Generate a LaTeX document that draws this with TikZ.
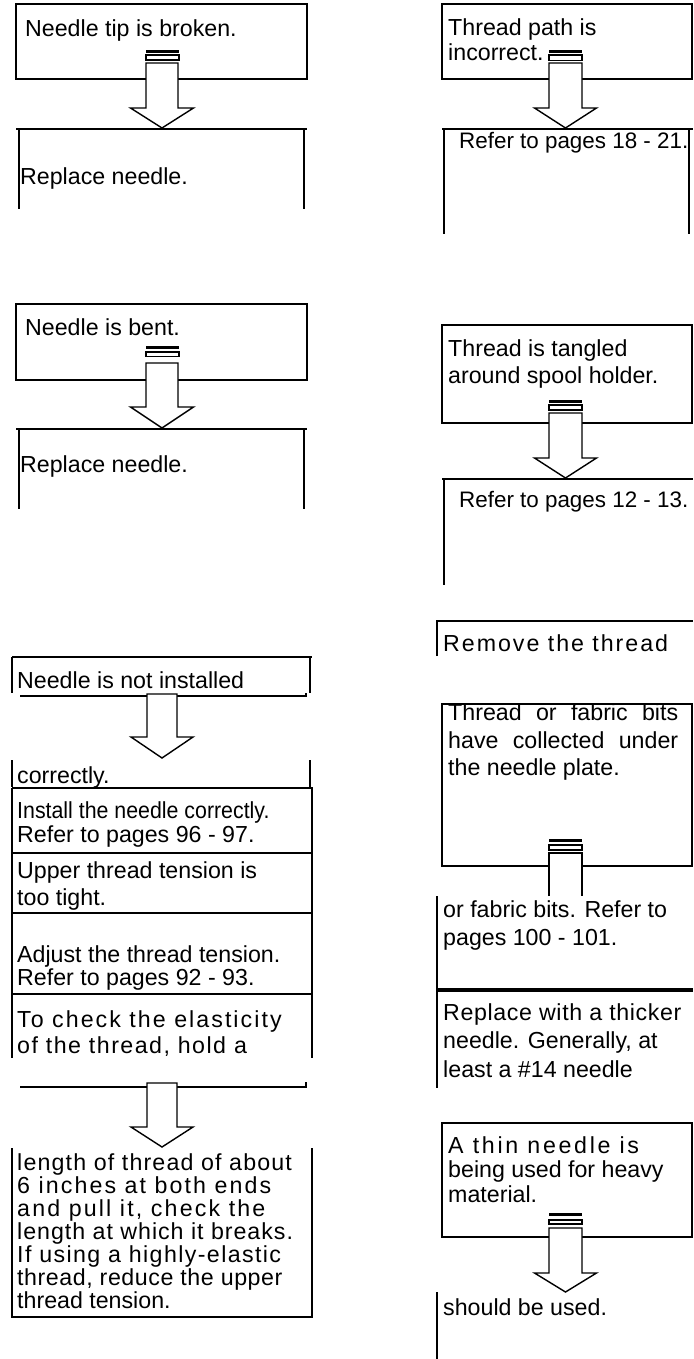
\documentclass[tikz,border=0pt]{standalone}
\usepackage{fontspec}
\setmainfont{Liberation Sans}
\newfontfamily\condfont[FakeStretch=0.92]{Liberation Sans}
\newcommand\lsp[2]{{\addfontfeature{LetterSpace=#1}#2}}
\newcommand\just[1]{\makebox[230pt][s]{#1}}
% block arrow: cx, half shaft, top, head y, tip y, half head
\newcommand\blkarrow[6]{%
  \draw[arrowline] (#1-#2,#3) -- (#1+#2,#3) -- (#1+#2,#4) -- (#1+#6,#4) -- (#1,#5) -- (#1-#6,#4) -- (#1-#2,#4) -- cycle;}
% double bar above arrow: x1, x2, bar y, rect top, rect bottom
\newcommand\twobars[5]{%
  \fill (#1,#3) rectangle (#2,#3+3);
  \draw[line width=1.3pt,fill=white] (#1,#4) rectangle (#2,#5);}
\begin{document}
\begin{tikzpicture}[x=1pt,y=-1pt,
  txt/.style={anchor=base west, inner sep=0pt, font=\fontsize{23.2}{27}\selectfont},
  smalltxt/.style={txt, font=\fontsize{22.4}{27}\selectfont},
  frame/.style={draw=black, line width=1.7pt},
  edge/.style={line width=1.7pt},
  thickedge/.style={line width=3.3pt},
  arrowline/.style={draw=black, line width=1.4pt, fill=white, line join=miter}]
\useasboundingbox (0,0) rectangle (693,1359);

% ================= LEFT COLUMN =================
% box 1
\node[txt] (t1) at (25,37) {Needle tip is broken.};
\draw[frame] (16,4) rectangle (307,79);
\twobars{146}{179}{50}{55}{60}
\blkarrow{162}{16}{63}{108}{128}{31.5}
\draw[edge] (16,129) -- (307,129);
\draw[edge] (19,129) -- (19,209);
\draw[edge] (304,129) -- (304,209);
\node[txt] (t2) at (20,185) {Replace needle.};

% box 2
\node[txt] (t3) at (25,335) {Needle is bent.};
\draw[frame] (16,304) rectangle (307,380);
\twobars{146}{179}{346}{352}{356.5}
\blkarrow{162}{16}{363}{407}{428}{31.5}
\draw[edge] (16,429) -- (307,429);
\draw[edge] (19,429) -- (19,509);
\draw[edge] (304,429) -- (304,509);
\node[txt] (t4) at (20,472) {Replace needle.};

% stack
\draw[edge] (12,657) -- (312,657);
\draw[edge] (12,657) -- (12,693);
\draw[edge] (310,657) -- (310,693);
\node[txt] (t5) at (17,688) {Needle is not installed};
\draw[line width=1.4pt] (20,696) -- (306,696) -- (306,693);
\blkarrow{162}{15}{694}{737}{758}{31}
\draw[edge] (12,760) -- (12,787);
\draw[edge] (310,760) -- (310,787);
\node[txt] (t6) at (17,783) {correctly.};
\draw[edge] (12,788) -- (313,788);
\draw[edge] (12,788) -- (12,1058);
\draw[edge] (312,788) -- (312,1058);
\node[txt] (t7) at (17,818) {\condfont Install the needle correctly.};
\node[txt] (t8) at (17,842) {Refer to pages 96 - 97.};
\draw[edge] (12,853) -- (312,853);
\node[txt] (t9) at (17,878) {Upper thread tension is};
\node[txt] (t10) at (17,905) {too tight.};
\draw[edge] (12,913) -- (312,913);
\node[txt] (t11) at (17,962) {Adjust the thread tension.};
\node[txt] (t12) at (17,985) {Refer to pages 92 - 93.};
\draw[edge] (12,994) -- (312,994);
\node[txt] (t13) at (17,1027) {\lsp{8.8}{To check the elasticity}};
\node[txt] (t14) at (17,1053) {\lsp{6.3}{of the thread, hold a}};

\draw[line width=1.4pt] (20,1087) -- (306,1087) -- (306,1082);
\blkarrow{162}{15}{1083}{1127}{1147}{31}
\draw[edge] (12,1148) -- (12,1317) -- (312,1317) -- (312,1148);
\node[txt] (t15) at (17,1170) {\lsp{5}{length of thread of about}};
\node[txt] (t16) at (17,1193) {\lsp{9}{6 inches at both ends}};
\node[txt] (t17) at (17,1216) {\lsp{9.3}{and pull it, check the}};
\node[txt] (t18) at (17,1239) {\lsp{4.2}{length at which it breaks.}};
\node[txt] (t19) at (17,1262) {\lsp{6}{If using a highly-elastic}};
\node[txt] (t20) at (17,1285) {\lsp{2.4}{thread, reduce the upper}};
\node[txt] (t21) at (17,1308) {thread tension.};

% ================= RIGHT COLUMN =================
\node[txt] (r1) at (448,36) {Thread path is};
\node[txt] (r2) at (448,61) {incorrect.};
\draw[frame] (442,4) rectangle (692,79);
\twobars{549}{582}{50}{55}{60.5}
\blkarrow{565.5}{16.5}{63}{108}{128}{31}
\draw[edge] (442,129) -- (693,129);
\draw[edge] (444,129) -- (444,234);
\draw[edge] (689,129) -- (689,234);
\node[smalltxt] (r3) at (459,149) {Refer to pages 18 - 21.};

\node[txt] (r4) at (448,356) {Thread is tangled};
\node[txt] (r5) at (448,383) {around spool holder.};
\draw[frame] (442,325) rectangle (692,423);
\twobars{549}{582}{400}{405}{410}
\blkarrow{565.5}{16.5}{413}{458}{478}{31}
\draw[edge] (442,479) -- (693,479);
\draw[edge] (444,479) -- (444,585);
\node[smalltxt] (r6) at (459,507) {Refer to pages 12 - 13.};

\draw[edge] (437,656) -- (437,621) -- (693,621);
\node[txt] (r7) at (443,651) {\lsp{8.5}{Remove the thread}};

\node[txt] (r8) at (448,720) {\just{Thread or fabric bits}};
\node[txt] (r9) at (448,748) {\just{have collected under}};
\node[txt] (r10) at (448,775) {the needle plate.};
\draw[frame] (442,704) rectangle (692,866);
\twobars{549}{582}{839}{845}{850}
\draw[arrowline] (549,896) -- (549,853) -- (582,853) -- (582,896);
\draw[edge] (437,896) -- (437,1088);
\node[txt] (r11) at (443,917) {or fabric bits. Refer to};
\node[txt] (r12) at (443,945) {pages 100 - 101.};
\draw[thickedge] (437,990) -- (693,990);
\node[txt] (r13) at (443,1020) {\lsp{2.7}{Replace with a thicker}};
\node[txt] (r14) at (443,1048) {needle. Generally, at};
\node[txt] (r15) at (443,1077) {least a \#14 needle};

\node[txt] (r16) at (448,1153) {\lsp{11.6}{A thin needle is}};
\node[txt] (r17) at (448,1177) {being used for heavy};
\node[txt] (r18) at (448,1202) {material.};
\draw[frame] (442,1123) rectangle (692,1237);
\twobars{549}{582}{1213}{1220}{1224}
\blkarrow{565.5}{16.5}{1228}{1273}{1292}{31}
\node[txt] (r19) at (443,1315) {should be used.};
\draw[edge] (437,1292) -- (437,1359);
\end{tikzpicture}
\end{document}
